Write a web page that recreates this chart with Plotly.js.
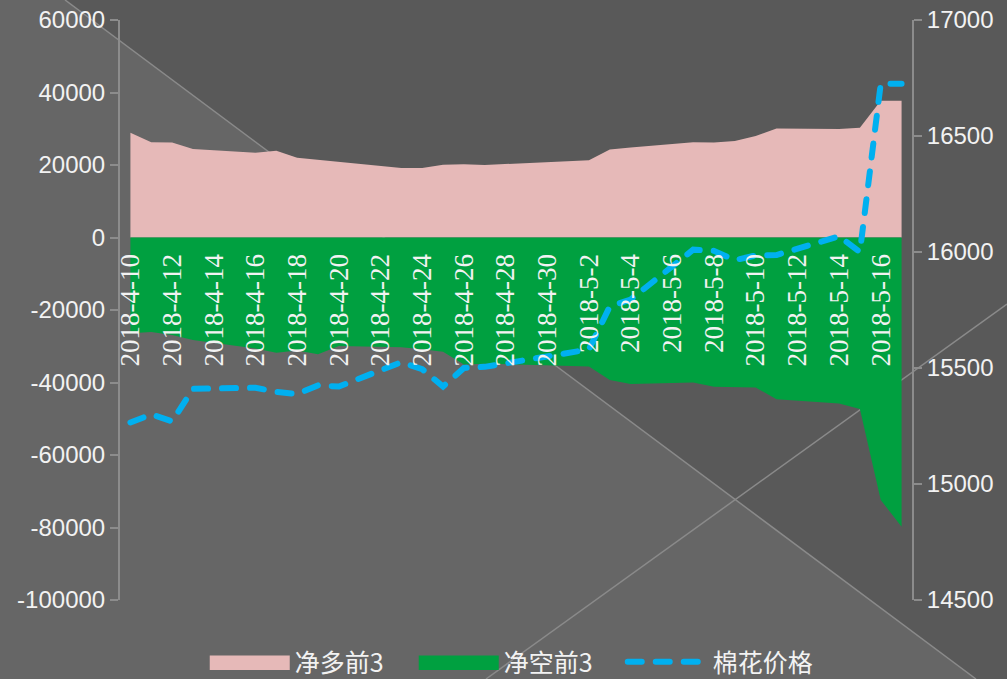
<!DOCTYPE html>
<html>
<head>
<meta charset="utf-8">
<script src="https://cdn.plot.ly/plotly-3.0.1.min.js"></script>
<style>
  html, body { margin: 0; padding: 0; background: #595959; }
  #chart { width: 1007px; height: 679px; }
  .js-line { stroke-linecap: round; }
  .legend .legendfill path { transform-box: fill-box; transform-origin: center; transform: scaleY(2.4); }
</style>
</head>
<body>
<div id="chart"></div>
<script>
// ---- data ----
const dates = ['2018-04-10','2018-04-11','2018-04-12','2018-04-13',
  '2018-04-16','2018-04-17','2018-04-18','2018-04-19','2018-04-20',
  '2018-04-23','2018-04-24','2018-04-25','2018-04-26','2018-04-27',
  '2018-05-02','2018-05-03','2018-05-04',
  '2018-05-07','2018-05-08','2018-05-09','2018-05-10','2018-05-11',
  '2018-05-14','2018-05-15','2018-05-16','2018-05-17'];
const netLongTop3 = [28900,26300,26200,24400, 23400,23900,22000,21400,20800,
  19200,19200,20100,20200,20000, 21300,24300,24800,
  26300,26200,26600,28000,30100, 29900,30300,37700,37700];
const netShortTop3 = [-26400,-26100,-26900,-28300, -30600,-31800,-31200,-32200,-29900,
  -30300,-30800,-31500,-35000,-34800, -35600,-39300,-40400,
  -40000,-41200,-41300,-41400,-44600, -45800,-47300,-72400,-79800];
const cottonPrice = [15265,15300,15270,15410, 15415,15397,15388,15425,15420,
  15525,15495,15420,15500,15505, 15580,15765,15795,
  16010,16005,15965,15985,15987, 16068,16000,16725,16725];

const seriesNames = ['净多前3','净空前3','棉花价格'];
const xTickVals = ['2018-04-10','2018-04-12','2018-04-14','2018-04-16','2018-04-18',
  '2018-04-20','2018-04-22','2018-04-24','2018-04-26','2018-04-28','2018-04-30',
  '2018-05-02','2018-05-04','2018-05-06','2018-05-08','2018-05-10','2018-05-12',
  '2018-05-14','2018-05-16'];
const xTickText = ['2018-4-10','2018-4-12','2018-4-14','2018-4-16','2018-4-18',
  '2018-4-20','2018-4-22','2018-4-24','2018-4-26','2018-4-28','2018-4-30',
  '2018-5-2','2018-5-4','2018-5-6','2018-5-8','2018-5-10','2018-5-12',
  '2018-5-14','2018-5-16'];
const xTickMarkVals = ['2018-04-11 12:00','2018-04-13 12:00','2018-04-15 12:00','2018-04-17 12:00',
  '2018-04-19 12:00','2018-04-21 12:00','2018-04-23 12:00','2018-04-25 12:00','2018-04-27 12:00',
  '2018-04-29 12:00','2018-05-01 12:00','2018-05-03 12:00','2018-05-05 12:00','2018-05-07 12:00',
  '2018-05-09 12:00','2018-05-11 12:00','2018-05-13 12:00','2018-05-15 12:00'];
const yTickVals = [-100000,-80000,-60000,-40000,-20000,0,20000,40000,60000];
const yTickText = ['-100000','-80000','-60000','-40000','-20000','0','20000','40000','60000'];

// ---- chart ----
const xRange = ['2018-04-09 12:00','2018-05-17 12:00'];
const axisGray = '#8c8c8c';
const textColor = '#f2f2f2';

const traces = [
  { x: dates, y: netLongTop3, name: seriesNames[0], type: 'scatter', mode: 'lines',
    fill: 'tozeroy', fillcolor: '#e6b9b8', line: {width: 0, color: '#e6b9b8'},
    xaxis: 'x', yaxis: 'y', hoverinfo: 'skip' },
  { x: dates, y: netShortTop3, name: seriesNames[1], type: 'scatter', mode: 'lines',
    fill: 'tozeroy', fillcolor: '#00a040', line: {width: 0, color: '#00a040'},
    xaxis: 'x', yaxis: 'y', hoverinfo: 'skip' },
  { x: dates, y: cottonPrice, name: seriesNames[2], type: 'scatter', mode: 'lines',
    line: {width: 6, color: '#00b0f0', dash: '14px,14px'},
    xaxis: 'x', yaxis: 'y2', hoverinfo: 'skip' }
];

const layout = {
  width: 1007, height: 679,
  margin: {l: 120, r: 95, t: 20, b: 79, autoexpand: false},
  paper_bgcolor: '#595959',
  plot_bgcolor: 'rgba(0,0,0,0)',
  showlegend: true,
  legend: {
    orientation: 'h', x: 0.107, xanchor: 'left', y: -0.107, yanchor: 'middle',
    font: {family: 'Noto Sans CJK SC', size: 25, color: textColor},
    bgcolor: 'rgba(0,0,0,0)', itemwidth: 80, traceorder: 'normal',
    entrywidth: 114, entrywidthmode: 'pixels'
  },
  xaxis: {
    type: 'date', range: xRange, anchor: 'free', position: 0.625,
    tickmode: 'array', tickvals: xTickVals, ticktext: xTickText, tickangle: -90,
    ticks: '', ticklabelstandoff: 10, automargin: false,
    tickfont: {family: 'Liberation Serif', size: 27, color: textColor},
    showline: false, showgrid: false, zeroline: false
  },
  xaxis2: {
    type: 'date', range: xRange, overlaying: 'x', anchor: 'free', position: 0.625,
    tickmode: 'array', tickvals: xTickMarkVals, showticklabels: false,
    ticks: 'outside', ticklen: 8, tickwidth: 2, tickcolor: axisGray,
    showline: true, linecolor: axisGray, linewidth: 2, showgrid: false, zeroline: false
  },
  yaxis: {
    range: [-100000, 60000], tickmode: 'array', tickvals: yTickVals, ticktext: yTickText,
    ticks: 'outside', ticklen: 8, tickwidth: 2, tickcolor: axisGray,
    showline: true, linecolor: axisGray, linewidth: 2,
    showgrid: false, zeroline: false,
    tickfont: {family: 'Liberation Sans', size: 24, color: textColor}
  },
  yaxis2: {
    range: [14500, 17000], dtick: 500, tick0: 14500, tickformat: 'd',
    overlaying: 'y', side: 'right', anchor: 'x',
    ticks: 'outside', ticklen: 8, tickwidth: 2, tickcolor: axisGray,
    showline: true, linecolor: axisGray, linewidth: 2,
    showgrid: false, zeroline: false,
    tickfont: {family: 'Liberation Sans', size: 24, color: textColor}
  },
  shapes: [
    { type: 'path', xref: 'paper', yref: 'paper', layer: 'below',
      path: 'M -0.2 1.1 L -0.0694 1.0345 L 1.0808 -0.1362 L 1.1 -0.2 L -0.2 -0.2 Z',
      fillcolor: '#666666', line: {width: 0} },
    { type: 'line', xref: 'paper', yref: 'paper', layer: 'below',
      x0: -0.0694, y0: 1.0345, x1: 1.0808, y1: -0.1362,
      line: {color: '#8a8a8a', width: 1.5} },
    { type: 'line', xref: 'paper', yref: 'paper', layer: 'below',
      x0: 0.4621, y0: -0.1362, x1: 1.1199, y1: 0.5103,
      line: {color: '#8a8a8a', width: 1.5} }
  ]
};

Plotly.newPlot('chart', traces, layout, {staticPlot: true, displayModeBar: false});
</script>
</body>
</html>
